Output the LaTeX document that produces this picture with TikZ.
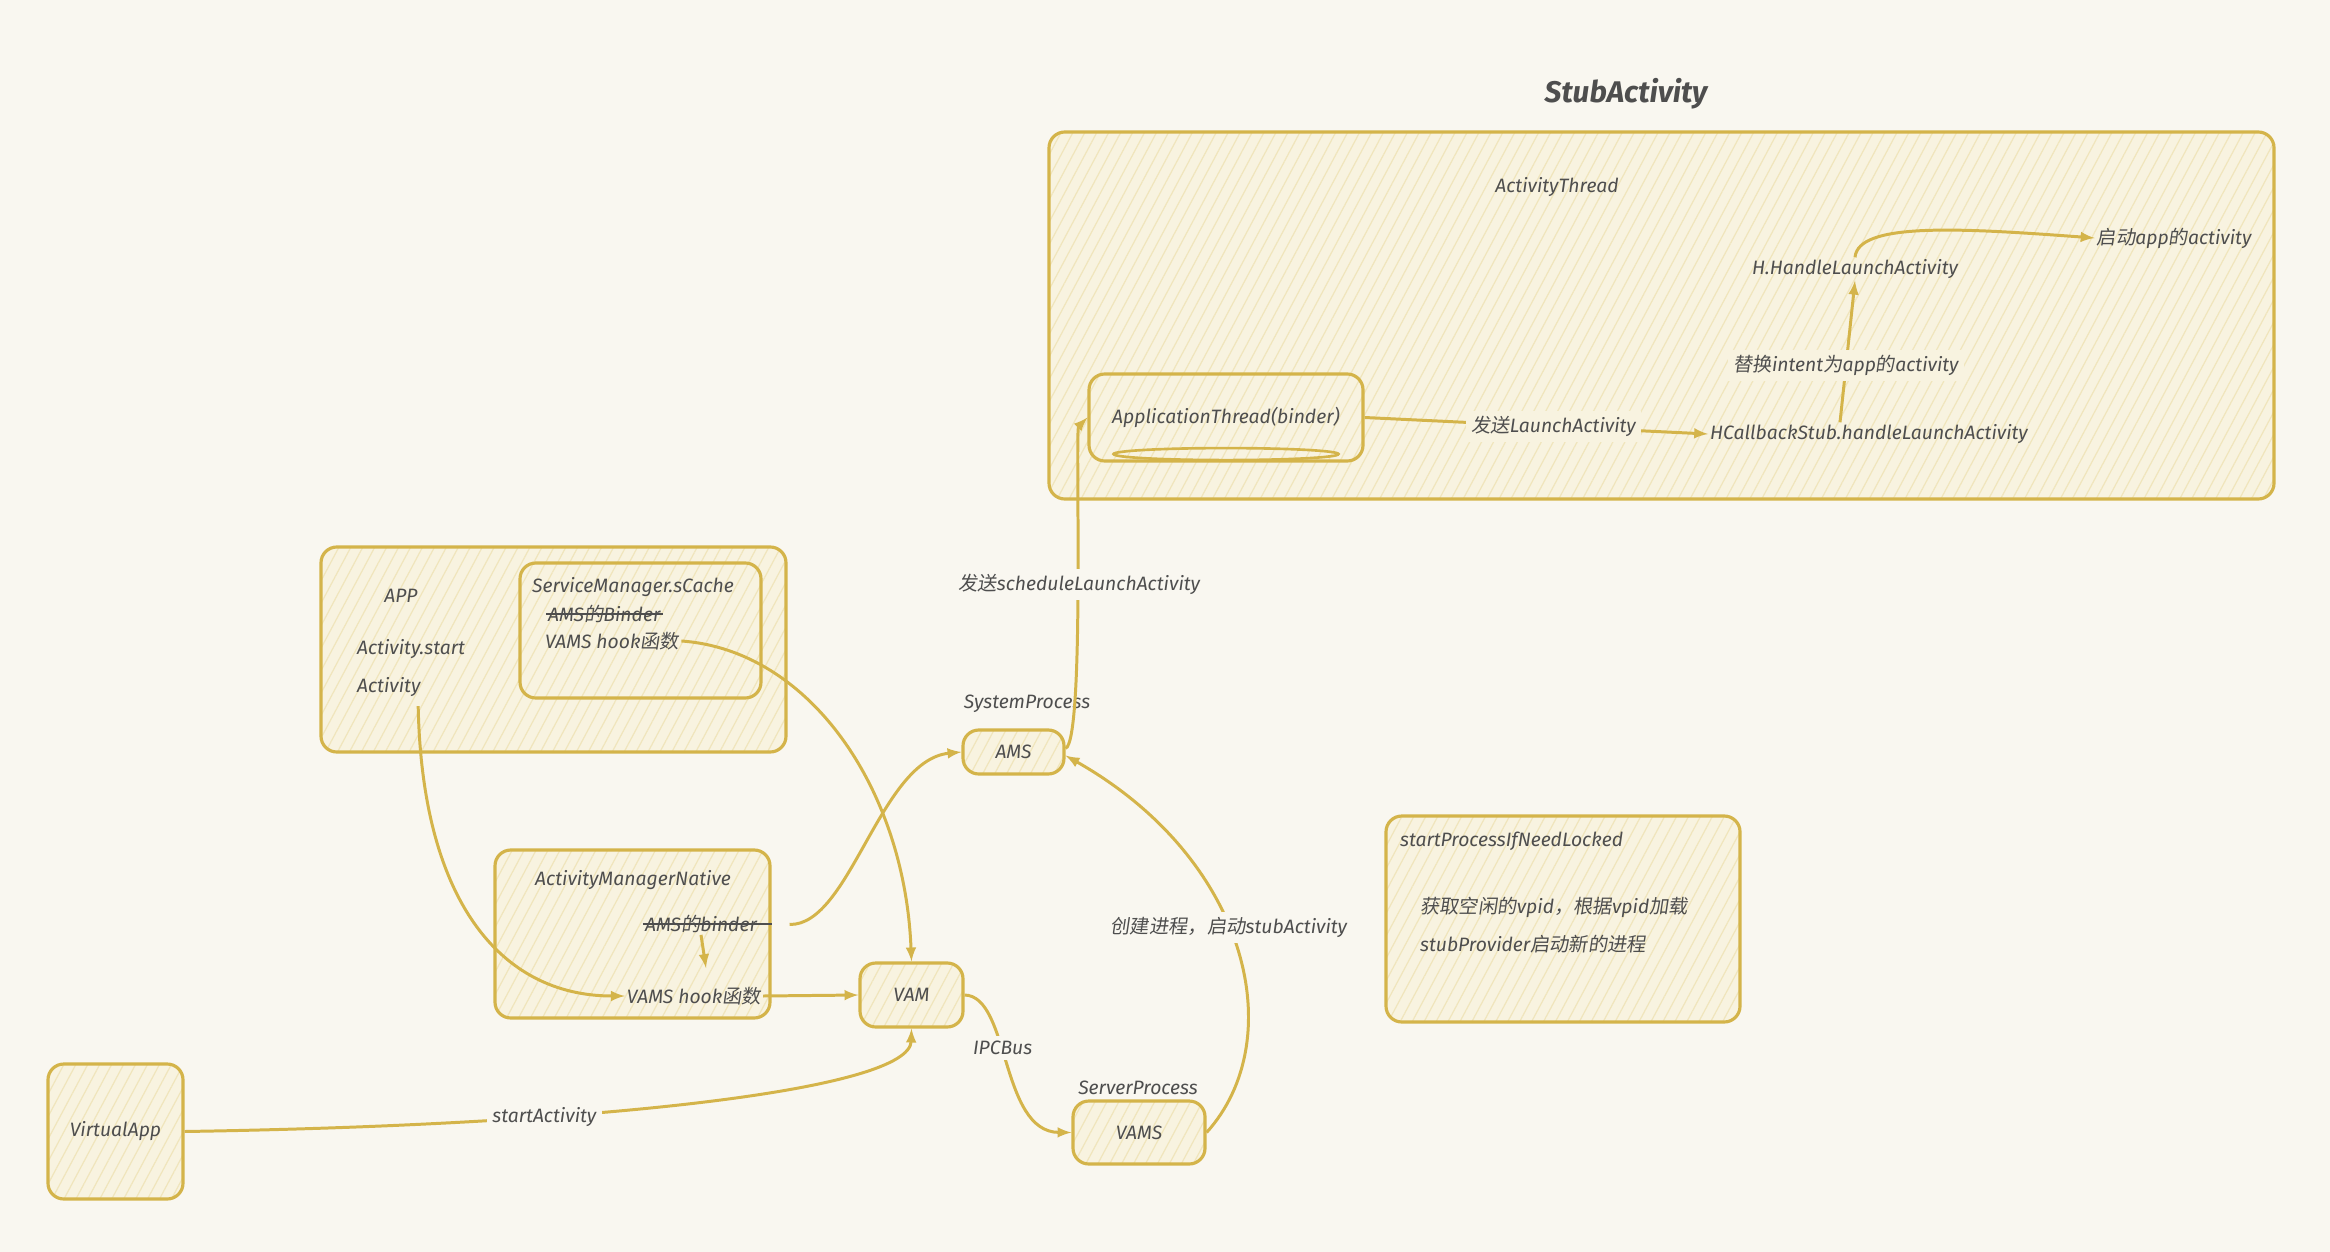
\documentclass[tikz,border=0pt]{standalone}
\usepackage{fontspec}
\setmainfont{Fira Sans}
\newfontfamily\cjk{Noto Sans CJK SC}[AutoFakeSlant=0.15]
\usetikzlibrary{arrows,fit,patterns.meta}

\definecolor{bgcol}{RGB}{249,247,240}
\definecolor{linecol}{RGB}{212,180,74}
\definecolor{boxfill}{RGB}{248,243,224}
\definecolor{hatchcol}{RGB}{240,229,188}
\definecolor{txtcol}{RGB}{78,78,78}

\begin{document}
\begin{tikzpicture}[x=0.2mm,y=-0.2mm]
\tikzset{
  txt/.style={text=txtcol, font=\fontsize{11}{13}\selectfont\itshape, inner sep=1pt},
  box/.style={draw=linecol, line width=1.8pt, rounded corners=9pt, inner sep=0pt,
    preaction={fill=boxfill}, pattern={Lines[angle=62,distance=6pt,line width=0.7pt]}, pattern color=hatchcol},
  link/.style={draw=linecol, line width=1.7pt, -latex},
  lab/.style={txt, fill=bgcol, inner sep=3pt},
  strike/.style={draw=txtcol, line width=1pt}
}
\fill[bgcol] (0,0) rectangle (2330,1252);

% StubActivity
\node[txt, font=\fontsize{17}{20}\selectfont\bfseries\itshape] (title) at (1626,94) {StubActivity};
\node[box, fit={(1049,132) (2274,499)}] (stubbox) {};
\node[txt] (thread) at (1557,187) {ActivityThread};
\node[box, fit={(1089,374) (1363,461)}] (atbox) {};
\draw[linecol, line width=1.5pt] ([yshift=1.7mm]atbox.south) ellipse [x radius=22.5mm, y radius=1.2mm];
\node[txt] (attext) at (atbox.center) {ApplicationThread(binder)};
\node[txt] (hcb) at (1869,434) {HCallbackStub.handleLaunchActivity};
\node[txt] (hh) at (1855,269) {H.HandleLaunchActivity};
\node[txt] (appact) at (2174,238) {{\cjk 启动}app{\cjk 的}activity};

% APP
\node[box, fit={(321,547) (786,752)}] (appbox) {};
\node[box, fit={(520,563) (761,698)}] (cachebox) {};
\node[txt] (apptitle) at (401,596) {APP};
\node[txt, align=left, anchor=west] (actstart) at (355,668) {Activity.start\\[8.6pt]Activity};
\node[txt, anchor=west] (cachetitle) at (530,587) {ServiceManager.sCache};
\node[txt, anchor=west] (cacheold) at (546,614) {AMS{\cjk 的}Binder};
\draw[strike] (cacheold.west) -- (cacheold.east);
\node[txt, anchor=west] (cachehook) at (543,641) {VAMS hook{\cjk 函数}};

% ActivityManagerNative
\node[box, fit={(495,850) (770,1018)}] (amnbox) {};
\node[txt] (amntitle) at (633,880) {ActivityManagerNative};
\node[txt] (amnold) at (701,924) {AMS{\cjk 的}binder};
\draw[strike] (amnold.west) -- (amnold.west -| amnbox.east);
\node[txt] (amnhook) at (694,996) {VAMS hook{\cjk 函数}};
\coordinate (bindtip) at (706,968);

% processes
\node[box, fit={(860,963) (963,1027)}] (vam) {};
\node[txt] (vamtext) at (vam.center) {VAM};
\node[box, fit={(963,730) (1064,774)}] (ams) {};
\node[txt] (amstext) at (ams.center) {AMS};
\node[txt] (sysproc) at (1027,704) {SystemProcess};
\node[box, fit={(1073,1101) (1205,1164)}] (vams) {};
\node[txt] (vamstext) at (vams.center) {VAMS};
\node[txt] (servproc) at (1138,1088) {ServerProcess};
\node[box, fit={(48,1064) (183,1199)}] (vapp) {};
\node[txt] (vapptext) at (vapp.center) {VirtualApp};
\node[box, fit={(1386,816) (1740,1022)}] (procbox) {};
\node[txt, anchor=west] (proctitle) at (1398,841) {startProcessIfNeedLocked};
\node[txt, anchor=west, align=left] (procbody) at (1418,925)
  {{\cjk 获取空闲的}vpid{\cjk ，根据}vpid{\cjk 加载}\\[8.6pt]stubProvider{\cjk 启动新的进程}};

% connectors
\draw[link, shorten <=1.5mm] ([xshift=1.4mm]actstart.south) .. controls (422,900) and (500,996) .. (amnhook.west);
\draw[link] (cachehook.east) .. controls (810,650) and (905,790) .. (vam.north);
\draw[link] (amnold.south) -- (bindtip);
\draw[link, shorten <=3.6mm] (amnold.east -| amnbox.east) .. controls (850,926) and (880,760) .. (ams.west);
\draw[link] (amnhook.east) -- (vam.west);
\draw[link] (vam.east) .. controls (1010,996) and (1000,1132) .. node[lab, pos=0.42] (ipclab) {IPCBus} (vams.west);
\draw[link] (vapp.east) .. controls (600,1125) and (910,1090) .. node[lab, pos=0.32] (startlab) {startActivity} (vam.south);
\draw[link] (vams.east) .. controls (1290,1040) and (1250,860) .. node[lab, pos=0.55] (createlab) {{\cjk 创建进程，启动}stubActivity} ([yshift=-2pt]ams.east);
\draw[link] ([yshift=2pt]ams.east) .. controls (1085,740) and (1075,430) .. node[lab, pos=0.5] (schedlab) {{\cjk 发送}scheduleLaunchActivity} (atbox.west);
\draw[link] (atbox.east) -- node[lab, fill=boxfill, pos=0.55] (launchlab) {{\cjk 发送}LaunchActivity} (hcb.west);
\draw[link] ([xshift=-5.8mm]hcb.north) -- node[lab, fill=boxfill, pos=0.4] (replab) {{\cjk 替换}intent{\cjk 为}app{\cjk 的}activity} (hh.south);
\draw[link] (hh.north) .. controls (1858,222) and (1960,228) .. (appact.west);
\end{tikzpicture}
\end{document}
